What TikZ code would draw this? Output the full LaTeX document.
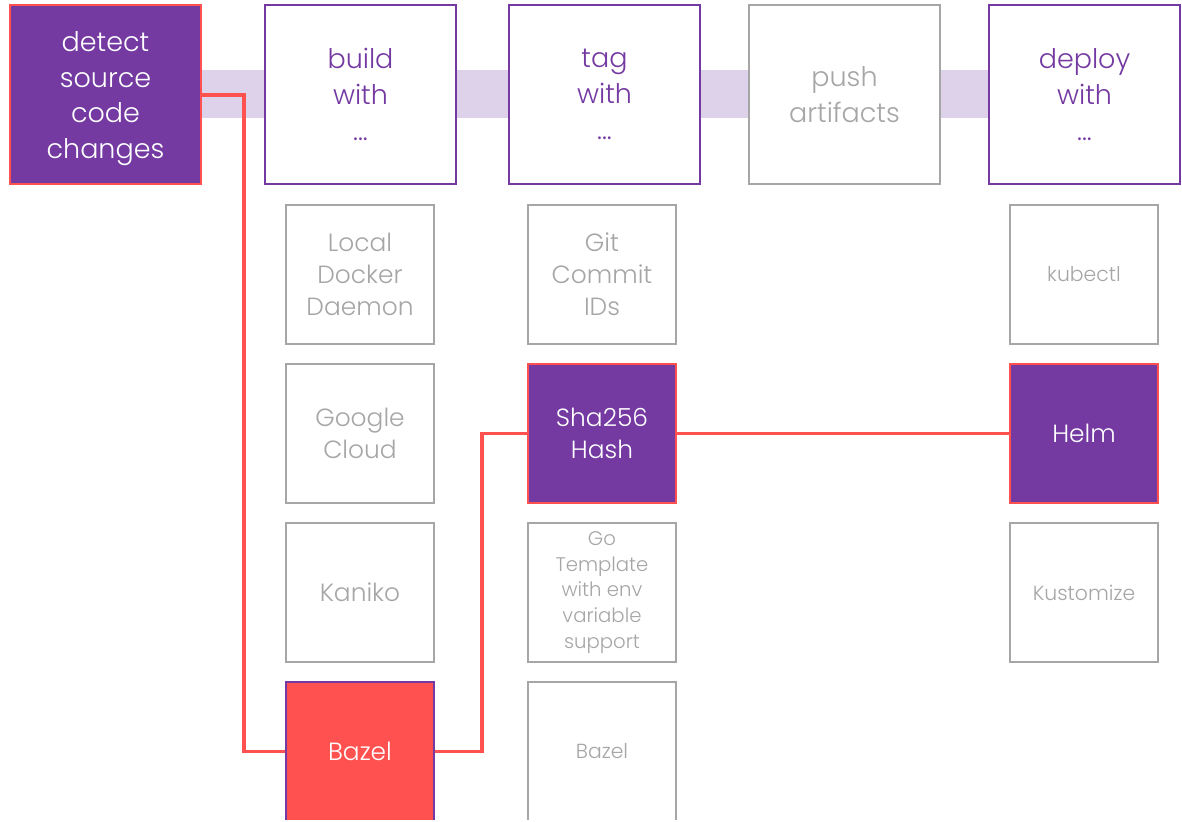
\documentclass[tikz,border=0pt]{standalone}
\usepackage{fontspec}
\setmainfont{Poppins Light}
\usepackage{tikz}
\definecolor{violet}{HTML}{743AA2}
\definecolor{rouge}{HTML}{FF5250}
\definecolor{gris}{HTML}{A6A6A6}
\definecolor{lavande}{HTML}{DDD2EA}
\newcommand{\grand}{\fontsize{19.2}{25.5}\selectfont}
\newcommand{\moyen}{\fontsize{17.7}{22.6}\selectfont}
\newcommand{\petit}{\fontsize{14}{18.4}\selectfont}
\newcommand{\mini}{\fontsize{14.5}{16}\selectfont}

\begin{document}
\begin{tikzpicture}[x=0.025cm,y=-0.025cm]
		\tikzstyle{etape}=[draw=violet,line width=1.4pt,fill=white,text=violet,align=center,minimum width=191*0.025cm,minimum height=179*0.025cm,inner sep=0pt,font=\grand]
		\tikzstyle{etapegrise}=[etape,draw=gris,text=gris]
		\tikzstyle{choix}=[draw=gris,line width=1.4pt,fill=white,text=gris,align=center,minimum width=148*0.025cm,minimum height=139*0.025cm,inner sep=0pt,font=\moyen]
		\tikzstyle{retenu}=[choix,draw=rouge,fill=violet,text=white]
		\tikzstyle{lien}=[draw=rouge,line width=2.7pt]
		\useasboundingbox (0,0) rectangle (1182,821);
		\clip (-2,-2) rectangle (1184,819.5);
		\fill[lavande] (201,70) rectangle (989,118);
		% etapes du haut
		\node[etape,draw=rouge,fill=violet,text=white] (detect) at (105.5,94.5){\rule{0pt}{20pt}detect\\source\\code\\changes};
		\node[etape] (build) at (360.5,94.5){build\\with\\...};
		\node[etape] (tag) at (604.5,94.5){tag\\with\\...};
		\node[etapegrise] (push) at (844.5,94.5){push\\artifacts};
		\node[etape] (deploy) at (1084.5,94.5){deploy\\with\\...};
		% build with
		\node[choix] (docker) at (360,274.5){Local\\Docker\\Daemon};
		\node[choix] (google) at (360,433.5){Google\\Cloud};
		\node[choix] (kaniko) at (360,592.5){Kaniko};
		\node[choix,draw=violet,fill=rouge,text=white] (bazelB) at (360,751.5){Bazel};
		% tag with
		\node[choix] (git) at (602,274.5){Git\\Commit\\IDs};
		\node[retenu] (sha) at (602,433.5){Sha256\\Hash};
		\node[choix,font=\petit] (gotpl) at (602,592.5){Go\\Template\\with env\\variable\\support};
		\node[choix,font=\mini] (bazelT) at (602,751.5){Bazel};
		% deploy with
		\node[choix,font=\mini] (kubectl) at (1084,274.5){kubectl};
		\node[retenu] (helm) at (1084,433.5){Helm};
		\node[choix,font=\mini] (kustomize) at (1084,592.5){Kustomize};

		\draw[lien] (detect.east |- 0,95) -- ++(42,0) |- (bazelB.west);
		\draw[lien] (bazelB.east) -- ++(47,0) |- (sha.west);
		\draw[lien] (sha.east)--(helm.west);
\end{tikzpicture}
\end{document}
